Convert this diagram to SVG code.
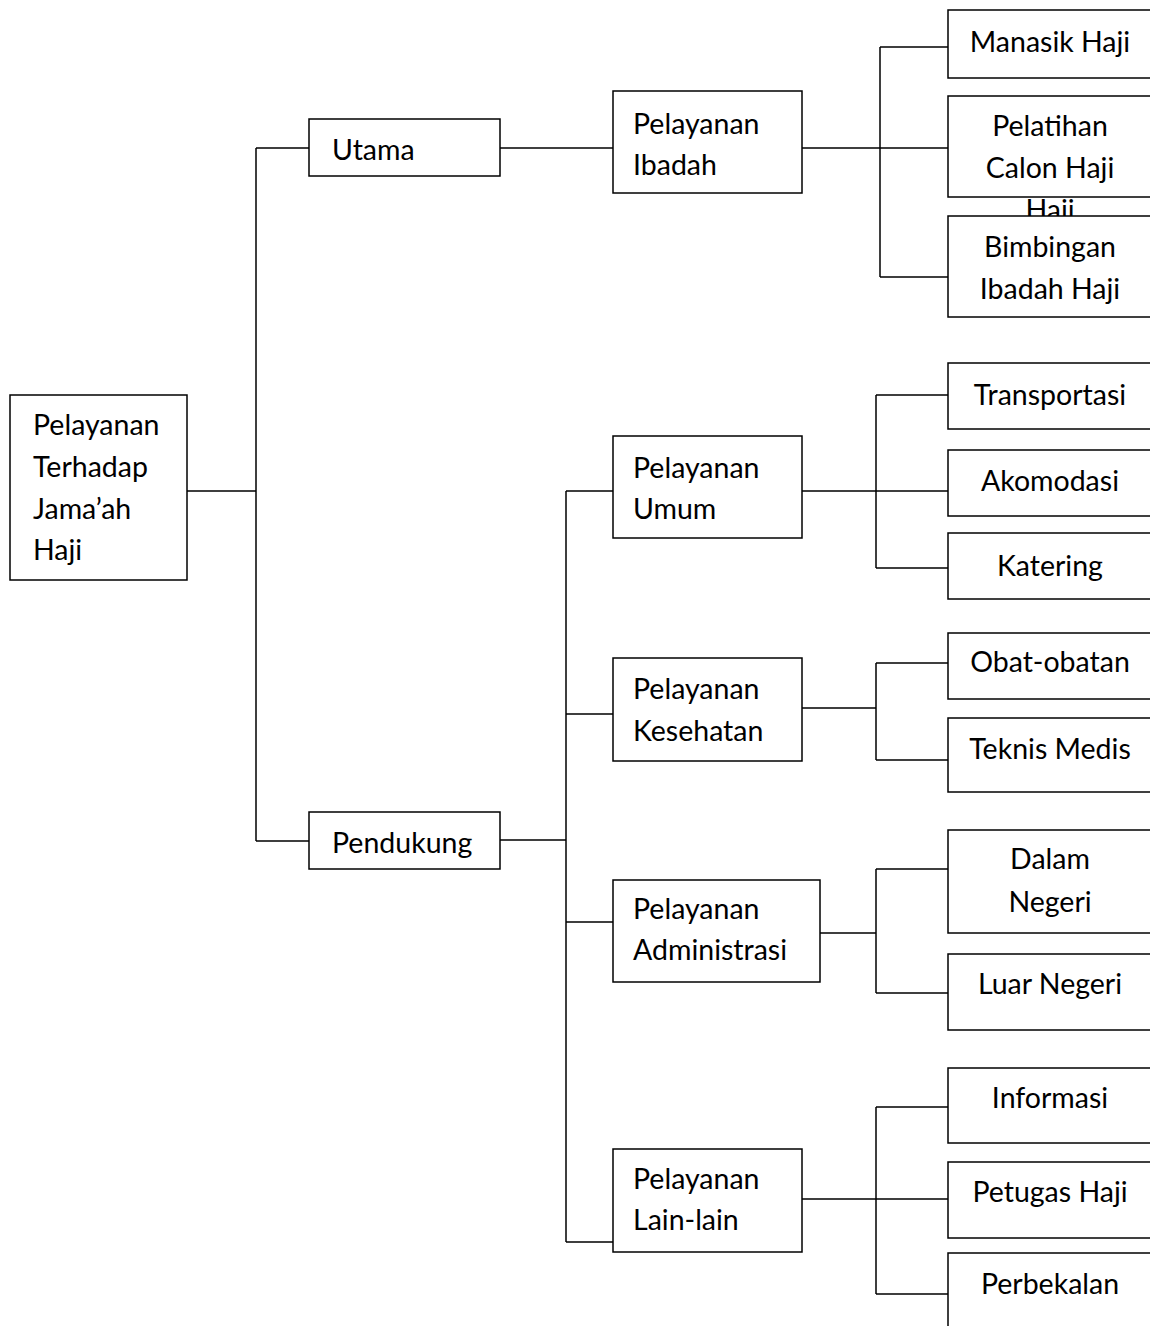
<svg xmlns="http://www.w3.org/2000/svg" width="1150" height="1326" viewBox="0 0 1150 1326">
<style>
.box{fill:#fff;stroke:#000;stroke-width:1.5}
.t{font-family:Lato,"Open Sans","DejaVu Sans",sans-serif;font-size:28.5px;fill:#000}
.c{text-anchor:middle}
.ln{fill:none;stroke:#000;stroke-width:1.5}
</style>
<rect width="1150" height="1326" fill="#fff"/>
<g id="connectors" class="ln">
<path d="M187,491H256M256,148V841M256,148H309M256,841H309"/>
<path d="M500,148H613"/>
<path d="M500,840H566M566,491V1242M566,491H613M566,714H613M566,922H613M566,1242H613"/>
<path d="M802,148H948M880,47V277M880,47H948M880,277H948"/>
<path d="M802,491H948M876,395V568M876,395H948M876,568H948"/>
<path d="M802,708H876M876,663V760M876,663H948M876,760H948"/>
<path d="M820,933H876M876,869V993M876,869H948M876,993H948"/>
<path d="M802,1199H948M876,1107V1294M876,1107H948M876,1294H948"/>
</g>
<g id="root"><rect class="box" x="10" y="395" width="177" height="185"/>
<text class="t" x="33" y="435">Pelayanan</text><text class="t" x="33" y="477">Terhadap</text><text class="t" x="33" y="519">Jama’ah</text><text class="t" x="33" y="560">Haji</text></g>
<g id="utama"><rect class="box" x="309" y="119" width="191" height="57"/><text class="t" x="332" y="160">Utama</text></g>
<g id="pendukung"><rect class="box" x="309" y="812" width="191" height="57"/><text class="t" x="332" y="853">Pendukung</text></g>
<g id="ibadah"><rect class="box" x="613" y="91" width="189" height="102"/><text class="t" x="633" y="134">Pelayanan</text><text class="t" x="633" y="175">Ibadah</text></g>
<g id="umum"><rect class="box" x="613" y="436" width="189" height="102"/><text class="t" x="633" y="478">Pelayanan</text><text class="t" x="633" y="519">Umum</text></g>
<g id="kesehatan"><rect class="box" x="613" y="658" width="189" height="103"/><text class="t" x="633" y="699">Pelayanan</text><text class="t" x="633" y="741">Kesehatan</text></g>
<g id="administrasi"><rect class="box" x="613" y="880" width="207" height="102"/><text class="t" x="633" y="919">Pelayanan</text><text class="t" x="633" y="960">Administrasi</text></g>
<g id="lainlain"><rect class="box" x="613" y="1149" width="189" height="103"/><text class="t" x="633" y="1189">Pelayanan</text><text class="t" x="633" y="1230">Lain-lain</text></g>
<g id="manasik"><rect class="box" x="948" y="10" width="206" height="68"/><text class="t c" x="1050" y="52">Manasik Haji</text></g>
<g id="pelatihan"><rect class="box" x="948" y="96" width="206" height="101"/><text class="t c" x="1050" y="136">Pelatihan</text><text class="t c" x="1050" y="178">Calon Haji</text><text class="t c" x="1050" y="220">Haji</text></g>
<g id="bimbingan"><rect class="box" x="948" y="216" width="206" height="101"/><text class="t c" x="1050" y="257">Bimbingan</text><text class="t c" x="1050" y="299">Ibadah Haji</text></g>
<g id="transportasi"><rect class="box" x="948" y="363" width="206" height="66"/><text class="t c" x="1050" y="405">Transportasi</text></g>
<g id="akomodasi"><rect class="box" x="948" y="450" width="206" height="66"/><text class="t c" x="1050" y="491">Akomodasi</text></g>
<g id="katering"><rect class="box" x="948" y="533" width="206" height="66"/><text class="t c" x="1050" y="576">Katering</text></g>
<g id="obat"><rect class="box" x="948" y="633" width="206" height="66"/><text class="t c" x="1050" y="672">Obat-obatan</text></g>
<g id="teknis"><rect class="box" x="948" y="718" width="206" height="74"/><text class="t c" x="1050" y="759">Teknis Medis</text></g>
<g id="dalam"><rect class="box" x="948" y="830" width="206" height="103"/><text class="t c" x="1050" y="869">Dalam</text><text class="t c" x="1050" y="912">Negeri</text></g>
<g id="luar"><rect class="box" x="948" y="954" width="206" height="76"/><text class="t c" x="1050" y="994">Luar Negeri</text></g>
<g id="informasi"><rect class="box" x="948" y="1068" width="206" height="75"/><text class="t c" x="1050" y="1108">Informasi</text></g>
<g id="petugas"><rect class="box" x="948" y="1162" width="206" height="76"/><text class="t c" x="1050" y="1202">Petugas Haji</text></g>
<g id="perbekalan"><rect class="box" x="948" y="1253" width="206" height="80"/><text class="t c" x="1050" y="1294">Perbekalan</text></g>
</svg>
